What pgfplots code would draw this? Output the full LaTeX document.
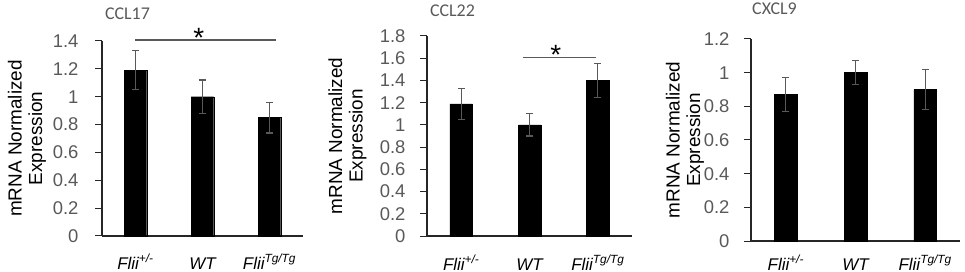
\documentclass[border=0pt]{standalone}
\usepackage{pgfplots}
\pgfplotsset{compat=1.18}
\usepackage{fontspec}
\setmainfont{Liberation Sans}
\newfontfamily\titlefont{Carlito}
\definecolor{txtgray}{HTML}{595959}
\definecolor{errgray}{HTML}{595959}
\pgfplotsset{
 panel/.style={
  scale only axis, anchor=south west,
  axis x line*=bottom, axis y line*=left,
  axis line style={line width=1.2bp, black!85, -},
  xmin=-0.5, xmax=2.5, ymin=0,
  xtick={0,1,2},
  xticklabels={{\itshape Flii\textsuperscript{+/-}}, {\itshape WT}, {\itshape Flii\textsuperscript{Tg/Tg}}},
  x tick style={draw=none},
  y tick style={line width=1bp, black!85},
  tick align=outside, major tick length=7bp,
  /pgf/number format/assume math mode=true,
  yticklabel style={font=\fontsize{18.5}{20}\selectfont, text=txtgray},
  xticklabel style={font=\fontsize{17}{18}\selectfont, text=black, anchor=base},
  ylabel={mRNA Normalized\\Expression},
  ylabel style={font=\fontsize{19}{20.5}\selectfont, align=center, anchor=center},
  clip=false,
 },
 bars/.style={ybar, bar width=22.5bp, bar shift=0pt, fill=black, draw=black,
  error bars/y dir=both, error bars/y explicit,
  error bars/error bar style={line width=1.2bp, errgray},
  error bars/error mark options={rotate=90, line width=1.2bp, mark size=3.5bp, errgray}},
}
\begin{document}
\begin{tikzpicture}
\useasboundingbox (0,0) rectangle (965bp,272bp);
% CCL17
\begin{axis}[panel, at={(102bp,36bp)}, width=201bp, height=195bp, ymax=1.4,
  ytick={0,0.2,0.4,0.6,0.8,1,1.2,1.4},
  yticklabel style={xshift=-13bp},
  xticklabel style={yshift=-26bp},
  ylabel style={at={(axis description cs:-0.373,0.5)}}]
\addplot[bars] coordinates {(0,1.19) +- (0,0.14) (1,1.0) +- (0,0.12) (2,0.85) +- (0,0.11)};
\draw[errgray, line width=1.2bp] (axis cs:0,1.407) -- (axis cs:2.1,1.407);
\node[font=\fontsize{28}{28}\selectfont] at (axis cs:0.944,1.425) {*};
\end{axis}
% CCL22
\begin{axis}[panel, at={(427bp,36bp)}, width=205bp, height=200bp, ymax=1.8,
  ytick={0,0.2,0.4,0.6,0.8,1,1.2,1.4,1.6,1.8},
  yticklabel style={xshift=-11bp},
  xticklabel style={yshift=-27bp},
  ylabel style={at={(axis description cs:-0.388,0.5)}}]
\addplot[bars] coordinates {(0,1.19) +- (0,0.14) (1,1.0) +- (0,0.1) (2,1.4) +- (0,0.155)};
\draw[errgray, line width=1.2bp] (axis cs:0.9,1.61) -- (axis cs:1.97,1.61);
\node[font=\fontsize{28}{28}\selectfont] at (axis cs:1.385,1.634) {*};
\end{axis}
% CXCL9
\begin{axis}[panel, at={(751bp,31bp)}, width=209bp, height=202bp, ymax=1.2,
  ytick={0,0.2,0.4,0.6,0.8,1,1.2},
  yticklabel style={xshift=-11bp},
  xticklabel style={yshift=-22bp},
  ylabel style={at={(axis description cs:-0.316,0.5)}}]
\addplot[bars] coordinates {(0,0.87) +- (0,0.1) (1,1.0) +- (0,0.07) (2,0.9) +- (0,0.12)};
\end{axis}
\node[font=\titlefont\fontsize{18}{20}\selectfont, text=txtgray] at (127.5bp,258bp) {CCL17};
\node[font=\titlefont\fontsize{18}{20}\selectfont, text=txtgray] at (452.5bp,261bp) {CCL22};
\node[font=\titlefont\fontsize{18}{20}\selectfont, text=txtgray] at (774.5bp,263bp) {CXCL9};
\end{tikzpicture}
\end{document}
